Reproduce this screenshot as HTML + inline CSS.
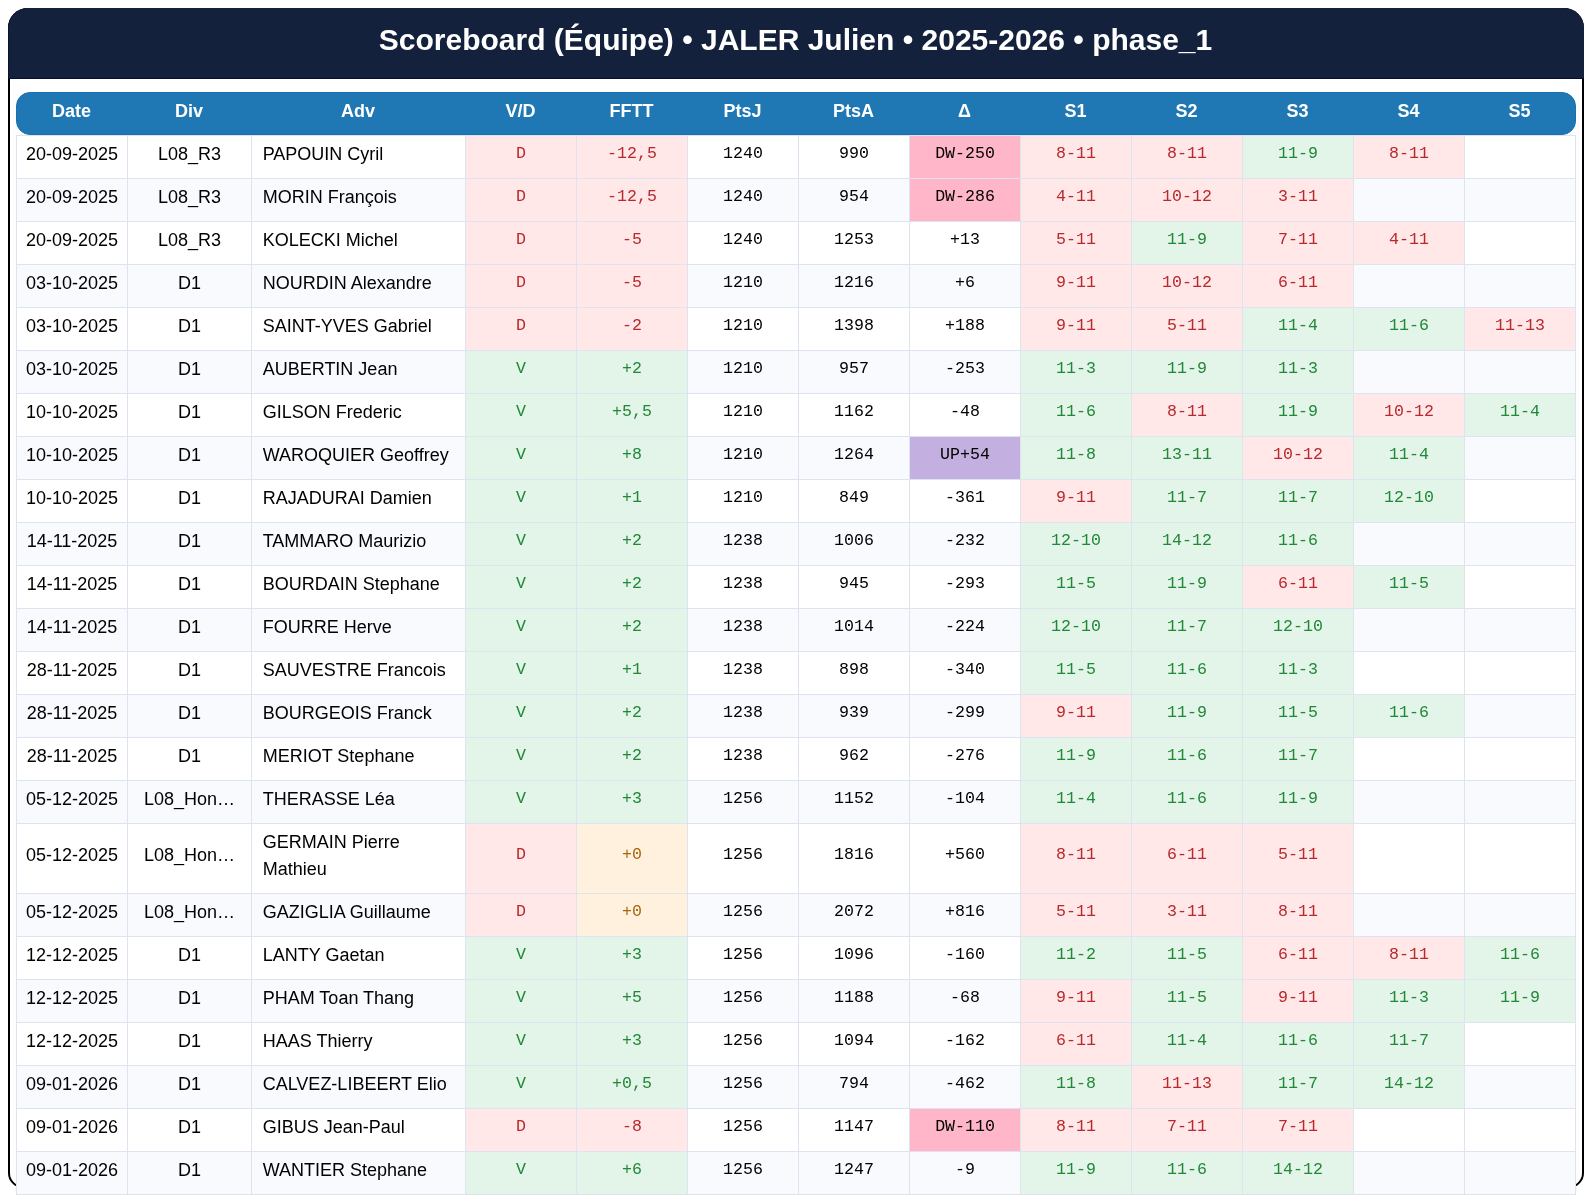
<!DOCTYPE html><html lang="fr"><head><meta charset="utf-8"><title>Scoreboard</title><style>
*{box-sizing:border-box;margin:0;padding:0}
html,body{background:#fff}
body{will-change:transform;width:1591px;height:1201px;overflow:hidden;position:relative;font-family:"Liberation Sans",sans-serif;color:#000}
#card{position:absolute;left:8px;top:8px;width:1576px;height:1180px;border:2px solid #000;border-radius:20px 20px 15px 15px}
#cap{position:absolute;left:8px;top:8px;width:1576px;height:71px;background:#14213d;border-left:1px solid #061238;border-bottom:1px solid #040e30;border-radius:20px 20px 0 0;color:#fff;font-weight:bold;font-size:30px;line-height:34px;text-align:center;padding-top:15px;padding-right:2px;white-space:nowrap}
#thead{position:absolute;left:16px;top:92px;width:1560px;height:43px;background:#1f77b4;border:1px solid #1a70b0;border-radius:14px;display:flex;color:#fff;font-weight:bold;font-size:18px;line-height:27px}
#thead div{text-align:center;padding-top:5px;flex:none}
#thead div:first-child{margin-left:-1px}
#tb{position:absolute;left:16px;top:135px;width:1560px;border-right:1px solid #dde4f0;border-bottom:1px solid #dde4f0}
.r{display:flex;height:43px;background:#fff}
.r.a{background:#f8fafe}
.r.t{height:70px}
.c{flex:none;border-left:1px solid #dde4f0;border-top:1px solid #dde4f0;font-size:18px;line-height:27px;text-align:center;padding:3px 0 8px 0;display:flex;flex-direction:column;justify-content:center;white-space:nowrap;overflow:hidden}
.c.l{text-align:left;padding-left:10.7px}
.m{font-family:"Liberation Mono",monospace;font-size:16.6px;padding-top:2px;padding-bottom:9px}
.r.t .c{padding-bottom:9px}
.r.t .m{padding-bottom:10px}
.L{background:#ffe8e7;color:#b8282c}
.W{background:#e3f4e8;color:#218838}
.Z{background:#fff1dd;color:#a8660c}
.DW{background:#ffb6c8}
.UP{background:#c4b0e0}
</style></head><body>
<div id="card"></div>
<div id="cap">Scoreboard (Équipe) • JALER Julien • 2025-2026 • phase_1</div>
<div id="thead"><div style="width:111px">Date</div><div style="width:124px">Div</div><div style="width:214px">Adv</div><div style="width:111px">V/D</div><div style="width:111px">FFTT</div><div style="width:111px">PtsJ</div><div style="width:111px">PtsA</div><div style="width:111px">Δ</div><div style="width:111px">S1</div><div style="width:111px">S2</div><div style="width:111px">S3</div><div style="width:111px">S4</div><div style="width:111px">S5</div></div>
<div id="tb">
<div class="r"><div class="c" style="width:111px">20-09-2025</div><div class="c" style="width:124px">L08_R3</div><div class="c l" style="width:214px">PAPOUIN Cyril</div><div class="c m L" style="width:111px">D</div><div class="c m L" style="width:111px">-12,5</div><div class="c m" style="width:111px">1240</div><div class="c m" style="width:111px">990</div><div class="c m DW" style="width:111px">DW-250</div><div class="c m L" style="width:111px">8-11</div><div class="c m L" style="width:111px">8-11</div><div class="c m W" style="width:111px">11-9</div><div class="c m L" style="width:111px">8-11</div><div class="c m " style="width:111px"></div></div>
<div class="r a"><div class="c" style="width:111px">20-09-2025</div><div class="c" style="width:124px">L08_R3</div><div class="c l" style="width:214px">MORIN François</div><div class="c m L" style="width:111px">D</div><div class="c m L" style="width:111px">-12,5</div><div class="c m" style="width:111px">1240</div><div class="c m" style="width:111px">954</div><div class="c m DW" style="width:111px">DW-286</div><div class="c m L" style="width:111px">4-11</div><div class="c m L" style="width:111px">10-12</div><div class="c m L" style="width:111px">3-11</div><div class="c m " style="width:111px"></div><div class="c m " style="width:111px"></div></div>
<div class="r"><div class="c" style="width:111px">20-09-2025</div><div class="c" style="width:124px">L08_R3</div><div class="c l" style="width:214px">KOLECKI Michel</div><div class="c m L" style="width:111px">D</div><div class="c m L" style="width:111px">-5</div><div class="c m" style="width:111px">1240</div><div class="c m" style="width:111px">1253</div><div class="c m " style="width:111px">+13</div><div class="c m L" style="width:111px">5-11</div><div class="c m W" style="width:111px">11-9</div><div class="c m L" style="width:111px">7-11</div><div class="c m L" style="width:111px">4-11</div><div class="c m " style="width:111px"></div></div>
<div class="r a"><div class="c" style="width:111px">03-10-2025</div><div class="c" style="width:124px">D1</div><div class="c l" style="width:214px">NOURDIN Alexandre</div><div class="c m L" style="width:111px">D</div><div class="c m L" style="width:111px">-5</div><div class="c m" style="width:111px">1210</div><div class="c m" style="width:111px">1216</div><div class="c m " style="width:111px">+6</div><div class="c m L" style="width:111px">9-11</div><div class="c m L" style="width:111px">10-12</div><div class="c m L" style="width:111px">6-11</div><div class="c m " style="width:111px"></div><div class="c m " style="width:111px"></div></div>
<div class="r"><div class="c" style="width:111px">03-10-2025</div><div class="c" style="width:124px">D1</div><div class="c l" style="width:214px">SAINT-YVES Gabriel</div><div class="c m L" style="width:111px">D</div><div class="c m L" style="width:111px">-2</div><div class="c m" style="width:111px">1210</div><div class="c m" style="width:111px">1398</div><div class="c m " style="width:111px">+188</div><div class="c m L" style="width:111px">9-11</div><div class="c m L" style="width:111px">5-11</div><div class="c m W" style="width:111px">11-4</div><div class="c m W" style="width:111px">11-6</div><div class="c m L" style="width:111px">11-13</div></div>
<div class="r a"><div class="c" style="width:111px">03-10-2025</div><div class="c" style="width:124px">D1</div><div class="c l" style="width:214px">AUBERTIN Jean</div><div class="c m W" style="width:111px">V</div><div class="c m W" style="width:111px">+2</div><div class="c m" style="width:111px">1210</div><div class="c m" style="width:111px">957</div><div class="c m " style="width:111px">-253</div><div class="c m W" style="width:111px">11-3</div><div class="c m W" style="width:111px">11-9</div><div class="c m W" style="width:111px">11-3</div><div class="c m " style="width:111px"></div><div class="c m " style="width:111px"></div></div>
<div class="r"><div class="c" style="width:111px">10-10-2025</div><div class="c" style="width:124px">D1</div><div class="c l" style="width:214px">GILSON Frederic</div><div class="c m W" style="width:111px">V</div><div class="c m W" style="width:111px">+5,5</div><div class="c m" style="width:111px">1210</div><div class="c m" style="width:111px">1162</div><div class="c m " style="width:111px">-48</div><div class="c m W" style="width:111px">11-6</div><div class="c m L" style="width:111px">8-11</div><div class="c m W" style="width:111px">11-9</div><div class="c m L" style="width:111px">10-12</div><div class="c m W" style="width:111px">11-4</div></div>
<div class="r a"><div class="c" style="width:111px">10-10-2025</div><div class="c" style="width:124px">D1</div><div class="c l" style="width:214px">WAROQUIER Geoffrey</div><div class="c m W" style="width:111px">V</div><div class="c m W" style="width:111px">+8</div><div class="c m" style="width:111px">1210</div><div class="c m" style="width:111px">1264</div><div class="c m UP" style="width:111px">UP+54</div><div class="c m W" style="width:111px">11-8</div><div class="c m W" style="width:111px">13-11</div><div class="c m L" style="width:111px">10-12</div><div class="c m W" style="width:111px">11-4</div><div class="c m " style="width:111px"></div></div>
<div class="r"><div class="c" style="width:111px">10-10-2025</div><div class="c" style="width:124px">D1</div><div class="c l" style="width:214px">RAJADURAI Damien</div><div class="c m W" style="width:111px">V</div><div class="c m W" style="width:111px">+1</div><div class="c m" style="width:111px">1210</div><div class="c m" style="width:111px">849</div><div class="c m " style="width:111px">-361</div><div class="c m L" style="width:111px">9-11</div><div class="c m W" style="width:111px">11-7</div><div class="c m W" style="width:111px">11-7</div><div class="c m W" style="width:111px">12-10</div><div class="c m " style="width:111px"></div></div>
<div class="r a"><div class="c" style="width:111px">14-11-2025</div><div class="c" style="width:124px">D1</div><div class="c l" style="width:214px">TAMMARO Maurizio</div><div class="c m W" style="width:111px">V</div><div class="c m W" style="width:111px">+2</div><div class="c m" style="width:111px">1238</div><div class="c m" style="width:111px">1006</div><div class="c m " style="width:111px">-232</div><div class="c m W" style="width:111px">12-10</div><div class="c m W" style="width:111px">14-12</div><div class="c m W" style="width:111px">11-6</div><div class="c m " style="width:111px"></div><div class="c m " style="width:111px"></div></div>
<div class="r"><div class="c" style="width:111px">14-11-2025</div><div class="c" style="width:124px">D1</div><div class="c l" style="width:214px">BOURDAIN Stephane</div><div class="c m W" style="width:111px">V</div><div class="c m W" style="width:111px">+2</div><div class="c m" style="width:111px">1238</div><div class="c m" style="width:111px">945</div><div class="c m " style="width:111px">-293</div><div class="c m W" style="width:111px">11-5</div><div class="c m W" style="width:111px">11-9</div><div class="c m L" style="width:111px">6-11</div><div class="c m W" style="width:111px">11-5</div><div class="c m " style="width:111px"></div></div>
<div class="r a"><div class="c" style="width:111px">14-11-2025</div><div class="c" style="width:124px">D1</div><div class="c l" style="width:214px">FOURRE Herve</div><div class="c m W" style="width:111px">V</div><div class="c m W" style="width:111px">+2</div><div class="c m" style="width:111px">1238</div><div class="c m" style="width:111px">1014</div><div class="c m " style="width:111px">-224</div><div class="c m W" style="width:111px">12-10</div><div class="c m W" style="width:111px">11-7</div><div class="c m W" style="width:111px">12-10</div><div class="c m " style="width:111px"></div><div class="c m " style="width:111px"></div></div>
<div class="r"><div class="c" style="width:111px">28-11-2025</div><div class="c" style="width:124px">D1</div><div class="c l" style="width:214px">SAUVESTRE Francois</div><div class="c m W" style="width:111px">V</div><div class="c m W" style="width:111px">+1</div><div class="c m" style="width:111px">1238</div><div class="c m" style="width:111px">898</div><div class="c m " style="width:111px">-340</div><div class="c m W" style="width:111px">11-5</div><div class="c m W" style="width:111px">11-6</div><div class="c m W" style="width:111px">11-3</div><div class="c m " style="width:111px"></div><div class="c m " style="width:111px"></div></div>
<div class="r a"><div class="c" style="width:111px">28-11-2025</div><div class="c" style="width:124px">D1</div><div class="c l" style="width:214px">BOURGEOIS Franck</div><div class="c m W" style="width:111px">V</div><div class="c m W" style="width:111px">+2</div><div class="c m" style="width:111px">1238</div><div class="c m" style="width:111px">939</div><div class="c m " style="width:111px">-299</div><div class="c m L" style="width:111px">9-11</div><div class="c m W" style="width:111px">11-9</div><div class="c m W" style="width:111px">11-5</div><div class="c m W" style="width:111px">11-6</div><div class="c m " style="width:111px"></div></div>
<div class="r"><div class="c" style="width:111px">28-11-2025</div><div class="c" style="width:124px">D1</div><div class="c l" style="width:214px">MERIOT Stephane</div><div class="c m W" style="width:111px">V</div><div class="c m W" style="width:111px">+2</div><div class="c m" style="width:111px">1238</div><div class="c m" style="width:111px">962</div><div class="c m " style="width:111px">-276</div><div class="c m W" style="width:111px">11-9</div><div class="c m W" style="width:111px">11-6</div><div class="c m W" style="width:111px">11-7</div><div class="c m " style="width:111px"></div><div class="c m " style="width:111px"></div></div>
<div class="r a"><div class="c" style="width:111px">05-12-2025</div><div class="c" style="width:124px">L08_Hon…</div><div class="c l" style="width:214px">THERASSE Léa</div><div class="c m W" style="width:111px">V</div><div class="c m W" style="width:111px">+3</div><div class="c m" style="width:111px">1256</div><div class="c m" style="width:111px">1152</div><div class="c m " style="width:111px">-104</div><div class="c m W" style="width:111px">11-4</div><div class="c m W" style="width:111px">11-6</div><div class="c m W" style="width:111px">11-9</div><div class="c m " style="width:111px"></div><div class="c m " style="width:111px"></div></div>
<div class="r t"><div class="c" style="width:111px">05-12-2025</div><div class="c" style="width:124px">L08_Hon…</div><div class="c l" style="width:214px">GERMAIN Pierre<br>Mathieu</div><div class="c m L" style="width:111px">D</div><div class="c m Z" style="width:111px">+0</div><div class="c m" style="width:111px">1256</div><div class="c m" style="width:111px">1816</div><div class="c m " style="width:111px">+560</div><div class="c m L" style="width:111px">8-11</div><div class="c m L" style="width:111px">6-11</div><div class="c m L" style="width:111px">5-11</div><div class="c m " style="width:111px"></div><div class="c m " style="width:111px"></div></div>
<div class="r a"><div class="c" style="width:111px">05-12-2025</div><div class="c" style="width:124px">L08_Hon…</div><div class="c l" style="width:214px">GAZIGLIA Guillaume</div><div class="c m L" style="width:111px">D</div><div class="c m Z" style="width:111px">+0</div><div class="c m" style="width:111px">1256</div><div class="c m" style="width:111px">2072</div><div class="c m " style="width:111px">+816</div><div class="c m L" style="width:111px">5-11</div><div class="c m L" style="width:111px">3-11</div><div class="c m L" style="width:111px">8-11</div><div class="c m " style="width:111px"></div><div class="c m " style="width:111px"></div></div>
<div class="r"><div class="c" style="width:111px">12-12-2025</div><div class="c" style="width:124px">D1</div><div class="c l" style="width:214px">LANTY Gaetan</div><div class="c m W" style="width:111px">V</div><div class="c m W" style="width:111px">+3</div><div class="c m" style="width:111px">1256</div><div class="c m" style="width:111px">1096</div><div class="c m " style="width:111px">-160</div><div class="c m W" style="width:111px">11-2</div><div class="c m W" style="width:111px">11-5</div><div class="c m L" style="width:111px">6-11</div><div class="c m L" style="width:111px">8-11</div><div class="c m W" style="width:111px">11-6</div></div>
<div class="r a"><div class="c" style="width:111px">12-12-2025</div><div class="c" style="width:124px">D1</div><div class="c l" style="width:214px">PHAM Toan Thang</div><div class="c m W" style="width:111px">V</div><div class="c m W" style="width:111px">+5</div><div class="c m" style="width:111px">1256</div><div class="c m" style="width:111px">1188</div><div class="c m " style="width:111px">-68</div><div class="c m L" style="width:111px">9-11</div><div class="c m W" style="width:111px">11-5</div><div class="c m L" style="width:111px">9-11</div><div class="c m W" style="width:111px">11-3</div><div class="c m W" style="width:111px">11-9</div></div>
<div class="r"><div class="c" style="width:111px">12-12-2025</div><div class="c" style="width:124px">D1</div><div class="c l" style="width:214px">HAAS Thierry</div><div class="c m W" style="width:111px">V</div><div class="c m W" style="width:111px">+3</div><div class="c m" style="width:111px">1256</div><div class="c m" style="width:111px">1094</div><div class="c m " style="width:111px">-162</div><div class="c m L" style="width:111px">6-11</div><div class="c m W" style="width:111px">11-4</div><div class="c m W" style="width:111px">11-6</div><div class="c m W" style="width:111px">11-7</div><div class="c m " style="width:111px"></div></div>
<div class="r a"><div class="c" style="width:111px">09-01-2026</div><div class="c" style="width:124px">D1</div><div class="c l" style="width:214px">CALVEZ-LIBEERT Elio</div><div class="c m W" style="width:111px">V</div><div class="c m W" style="width:111px">+0,5</div><div class="c m" style="width:111px">1256</div><div class="c m" style="width:111px">794</div><div class="c m " style="width:111px">-462</div><div class="c m W" style="width:111px">11-8</div><div class="c m L" style="width:111px">11-13</div><div class="c m W" style="width:111px">11-7</div><div class="c m W" style="width:111px">14-12</div><div class="c m " style="width:111px"></div></div>
<div class="r"><div class="c" style="width:111px">09-01-2026</div><div class="c" style="width:124px">D1</div><div class="c l" style="width:214px">GIBUS Jean-Paul</div><div class="c m L" style="width:111px">D</div><div class="c m L" style="width:111px">-8</div><div class="c m" style="width:111px">1256</div><div class="c m" style="width:111px">1147</div><div class="c m DW" style="width:111px">DW-110</div><div class="c m L" style="width:111px">8-11</div><div class="c m L" style="width:111px">7-11</div><div class="c m L" style="width:111px">7-11</div><div class="c m " style="width:111px"></div><div class="c m " style="width:111px"></div></div>
<div class="r a"><div class="c" style="width:111px">09-01-2026</div><div class="c" style="width:124px">D1</div><div class="c l" style="width:214px">WANTIER Stephane</div><div class="c m W" style="width:111px">V</div><div class="c m W" style="width:111px">+6</div><div class="c m" style="width:111px">1256</div><div class="c m" style="width:111px">1247</div><div class="c m " style="width:111px">-9</div><div class="c m W" style="width:111px">11-9</div><div class="c m W" style="width:111px">11-6</div><div class="c m W" style="width:111px">14-12</div><div class="c m " style="width:111px"></div><div class="c m " style="width:111px"></div></div>
</div></body></html>
